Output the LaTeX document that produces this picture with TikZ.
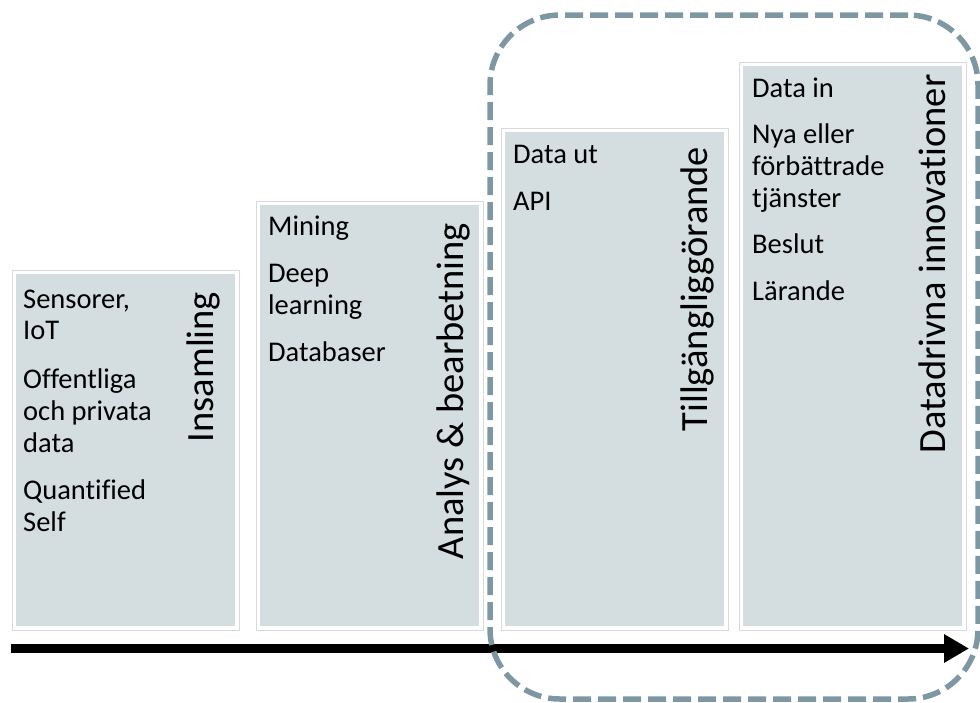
\documentclass[tikz,border=0pt]{standalone}
\usepackage{fontspec}
\setmainfont{Carlito}[Ligatures={NoCommon}]
\usetikzlibrary{arrows.meta}
\definecolor{boxfill}{HTML}{D4DEE0}
\definecolor{boxline}{HTML}{D9D9D9}
\definecolor{dashcol}{HTML}{7E98A3}
\begin{document}
\begin{tikzpicture}[x=1pt,y=-1pt,
  panel/.style={draw=boxline, line width=1pt, fill=white, inner sep=0pt, outer sep=0pt,
    minimum width=227pt, anchor=north west},
  title/.style={rotate=90, anchor=base, inner sep=0pt, font=\fontsize{38.5}{44}\selectfont},
  item/.style={anchor=base west, inner sep=0pt, font=\fontsize{28.5}{32}\selectfont},
  group/.style={draw=dashcol, line width=5.5pt, dash pattern=on 18pt off 7pt,
    rounded corners=70pt, minimum width=488pt, minimum height=684pt, inner sep=0pt},
  timeline/.style={line width=9pt, -{Triangle[length=25pt,width=27pt]}}
]
\useasboundingbox (0,0) rectangle (980,702);

% panels
\node[panel, minimum height=360pt] (b1) at (12,270) {};
\node[panel, minimum height=429pt] (b2) at (256,201) {};
\node[panel, minimum height=502pt] (b3) at (501,128) {};
\node[panel, minimum height=568pt] (b4) at (739,62) {};
\foreach \b in {b1,b2,b3,b4}{
  \fill[boxfill] ([shift={(4pt,-4pt)}]\b.north west) rectangle ([shift={(-4pt,4pt)}]\b.south east);
}

% titles
\node[title] (t1) at (213,367) {Insamling};
\node[title] (t2) at (463,391) {Analys \& bearbetning};
\node[title] (t3) at (707,289) {Tillgängliggörande};
\node[title] (t4) at (945,264) {Datadrivna innovationer};

% box 1 items
\node[item] (i1a) at (23,308) {Sensorer,};
\node[item] (i1b) at (23,339) {IoT};
\node[item] (i1c) at (23,388) {Offentliga};
\node[item] (i1d) at (23,420) {och privata};
\node[item] (i1e) at (23,452) {data};
\node[item] (i1f) at (23,499) {Quantified};
\node[item] (i1g) at (23,531) {Self};

% box 2 items
\node[item] (i2a) at (268,235) {Mining};
\node[item] (i2b) at (268,282) {Deep};
\node[item] (i2c) at (268,314) {learning};
\node[item] (i2d) at (268,361) {Databaser};

% box 3 items
\node[item] (i3a) at (513,163) {Data ut};
\node[item] (i3b) at (513,210) {API};

% box 4 items
\node[item] (i4a) at (752,97) {Data in};
\node[item] (i4b) at (752,143) {Nya eller};
\node[item] (i4c) at (752,175) {förbättrade};
\node[item] (i4d) at (752,207) {tjänster};
\node[item] (i4e) at (752,253) {Beslut};
\node[item] (i4f) at (752,300) {Lärande};

% timeline arrow
\coordinate (as) at (11,648.5);
\coordinate (ae) at (969,648.5);
\draw[timeline] (as) -- (ae);

% dashed group
\node[group] (grp) at (734,357) {};
\end{tikzpicture}
\end{document}
